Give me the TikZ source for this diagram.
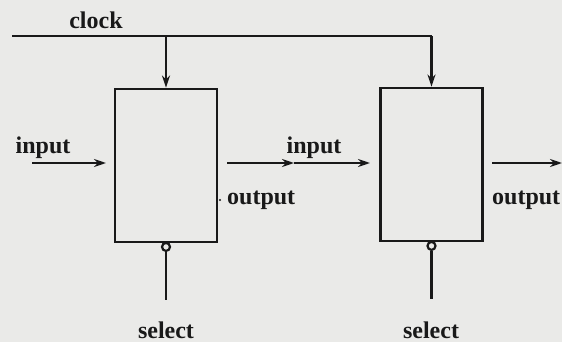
\documentclass[tikz,border=0pt]{standalone}
\usepackage{tikz}
\usepackage{xcolor}
\usepackage{fontspec}
\setmainfont{Liberation Serif}
\usetikzlibrary{arrows.meta,calc}

\definecolor{paper}{RGB}{234,234,232}
\definecolor{ink}{RGB}{25,25,25}

\begin{document}
\begin{tikzpicture}[
    x=1pt, y=1pt, yscale=-1, xscale=1,
    every node/.style={font=\fontsize{24}{28}\selectfont\bfseries, inner sep=1pt, text=ink},
    stage/.style={draw=ink, line width=2.8pt, minimum width=102pt, minimum height=153pt, inner sep=0pt},
    wire/.style={draw=ink, line width=2.6pt},
    sig/.style={wire, -{Stealth[length=12pt, width=8pt]}}
]

% paper
\fill[paper] (0,0) rectangle (562,342);
\useasboundingbox (0,0) rectangle (562,342);

%==================== Stages ====================
\node[stage] (stA) at (166,165.5) {};
\node[stage] (stB) at (431.5,164.5) {};

%==================== Clock bus ====================
\coordinate (clkL) at (12,36);
\coordinate (clkA) at (stA.north |- clkL);
\coordinate (clkB) at (stB.north |- clkL);
\draw[wire] (clkL) -- (clkB);
\draw[sig] (clkA) -- (stA.north);
\draw[sig] (clkB) -- (stB.north);
\node (clk) at (96,20) {clock};

%==================== Data path ====================
\coordinate (inA0) at (32,163);
\coordinate (inA1) at (106,163);
\draw[sig] (inA0) -- (inA1);
\node (inAl) at (43,148) {input};

\coordinate (midA) at (227,163);
\coordinate (midM) at (294,163);
\coordinate (midB) at (370,163);
\draw[sig] (midA) -- (midM);
\draw[sig] (midM) -- (midB);
\node (inBl) at (314,148) {input};

\fill[ink] (220,200) circle (1.2);
\node[anchor=west] (outAl) at (226,200) {output};

\coordinate (outB0) at (492,163);
\coordinate (outB1) at (562,163);
\draw[sig] (outB0) -- (outB1);
\node[anchor=west] (outBl) at (491,200) {output};

%==================== Select inputs ====================
\foreach \s in {stA,stB}{
  \node[draw=ink, line width=2.2pt, circle, minimum size=8pt, inner sep=0pt] (\s sel) at ($(\s.south)+(0,3.5)$) {};
  \coordinate (\s end) at ($(\s.south)+(0,57)$);
  \draw[wire] (\s sel.south) -- (\s end);
}
\node (selA) at (166,330) {select};
\node (selB) at (431,330) {select};

\end{tikzpicture}
\end{document}
